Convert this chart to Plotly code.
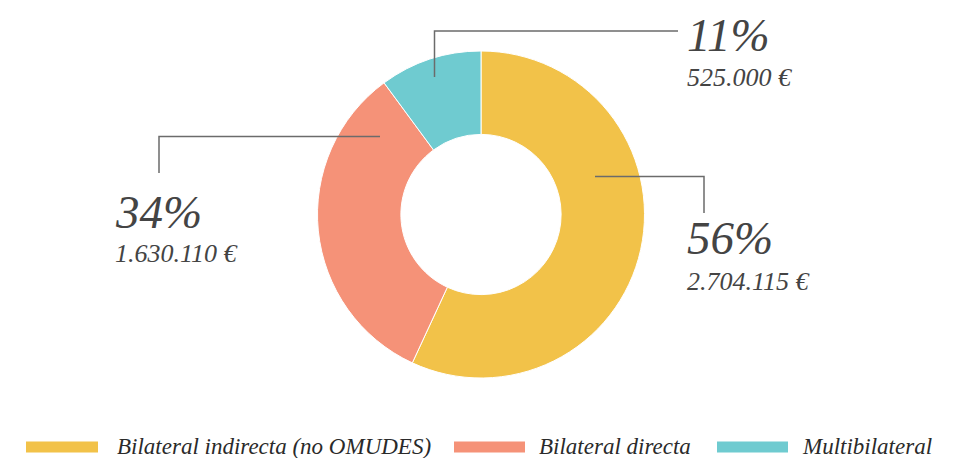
import plotly.graph_objects as go

labels = ["Bilateral indirecta (no OMUDES)", "Bilateral directa", "Multibilateral"]
# slice shares as drawn in the picture (percent of the ring)
shares = [56.9, 33.0, 10.1]
# labels printed next to each slice
pct_text = ["56%", "34%", "11%"]
amounts = [2704115, 1630110, 525000]
colors = ["#F2C249", "#F59278", "#6FCBD0"]

W, H = 967, 458
amt_text = [f"{v:,}".replace(",", ".") + " €" for v in amounts]

def px(x):
    return x / W

def py(y):
    return 1 - y / H

FONT = "Liberation Serif"
TXT = "#444444"

fig = go.Figure()
fig.add_trace(go.Pie(
    labels=labels, values=shares, hole=0.49, sort=False,
    direction="clockwise", rotation=0,
    marker=dict(colors=colors, line=dict(color="white", width=1)),
    textinfo="none", hoverinfo="label",
    domain=dict(x=[px(317.5), px(644.5)], y=[py(378), py(51)]),
    showlegend=False,
))

# label positions (left x, pct center y, amount center y) per slice
label_pos = [(685, 238, 281), (113, 212, 254), (685, 35, 77)]
annotations = []
for (x, yp, ya), p, a in zip(label_pos, pct_text, amt_text):
    annotations.append(dict(x=px(x), y=py(yp), xref="paper", yref="paper",
                            text=f"<i>{p}</i>", showarrow=False, xanchor="left",
                            yanchor="middle", font=dict(family=FONT, size=47, color=TXT)))
    annotations.append(dict(x=px(x), y=py(ya), xref="paper", yref="paper",
                            text=f"<i>{a}</i>", showarrow=False, xanchor="left",
                            yanchor="middle", font=dict(family=FONT, size=26, color=TXT)))

shapes = []
LINE = dict(color="#6b6b6b", width=1.5)
# leader lines
leaders = [
    [(595, 176.5), (704, 176.5), (704, 213)],
    [(380, 136.5), (159, 136.5), (159, 173)],
    [(434.5, 77), (434.5, 31), (678, 31)],
]
for pts in leaders:
    path = "M " + " L ".join(f"{px(x)},{py(y)}" for x, y in pts)
    shapes.append(dict(type="path", path=path, xref="paper", yref="paper", line=LINE))

# custom legend
legend_pos = [(26, 98, 115), (454, 525, 537), (717, 788, 800)]
for (x0, x1, tx), lab, c in zip(legend_pos, labels, colors):
    shapes.append(dict(type="rect", xref="paper", yref="paper",
                       x0=px(x0), x1=px(x1), y0=py(452.5), y1=py(441.5),
                       fillcolor=c, line=dict(width=0)))
    annotations.append(dict(x=px(tx), y=py(446), xref="paper", yref="paper",
                            text=f"<i>{lab}</i>", showarrow=False, xanchor="left",
                            yanchor="middle", font=dict(family=FONT, size=23, color="#2a2a2a")))

fig.update_layout(
    width=W, height=H, margin=dict(l=0, r=0, t=0, b=0),
    paper_bgcolor="white", plot_bgcolor="white",
    shapes=shapes, annotations=annotations,
)
fig.write_html("out.html", config={"displayModeBar": False},
               post_script="document.body.style.margin='0';document.body.style.overflow='hidden';")
